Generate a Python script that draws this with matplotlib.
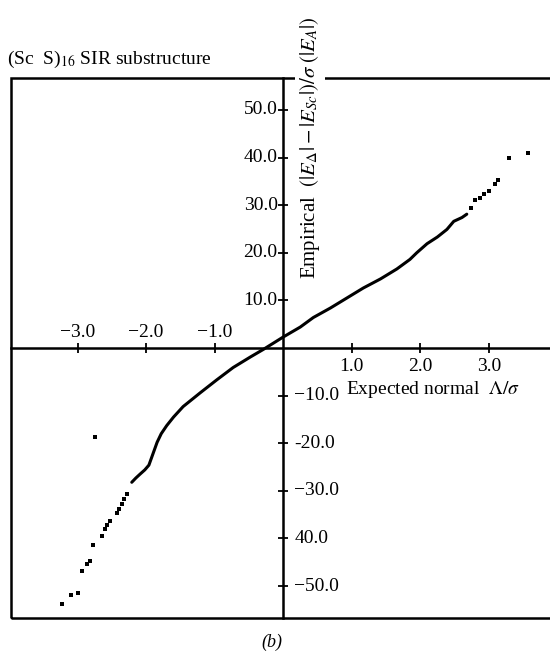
import matplotlib
matplotlib.use('Agg')
import matplotlib.pyplot as plt
from matplotlib.patches import Rectangle

plt.rcParams['font.family'] = ['Liberation Serif', 'DejaVu Serif']
plt.rcParams['mathtext.fontset'] = 'stix'

# normal probability plot, (Sc S)16 SIR substructure
# dense part of the curve
curve_x = [-2.21, -2.15, -2.09, -2.02, -1.96, -1.92, -1.88, -1.84, -1.78, -1.70,
           -1.60, -1.46, -1.21, -0.97, -0.73, -0.48, -0.29, 0.0, 0.25, 0.44,
           0.69, 0.93, 1.17, 1.42, 1.66, 1.85, 1.95, 2.10, 2.25, 2.39,
           2.49, 2.61, 2.68]
curve_y = [-28.2, -27.3, -26.5, -25.6, -24.6, -23.0, -21.4, -19.8, -18.0, -16.3,
           -14.5, -12.3, -9.4, -6.7, -4.1, -1.9, -0.3, 2.3, 4.4, 6.4,
           8.4, 10.5, 12.6, 14.5, 16.6, 18.6, 20.0, 21.9, 23.3, 24.9,
           26.6, 27.4, 28.1]

# sparse points in the tails
tail_x = [2.74, 2.80, 2.87, 2.93, 3.00, 3.09, 3.14, 3.29, 3.57,
          -2.28, -2.32, -2.35, -2.40, -2.43, -2.53, -2.57, -2.60, -2.65,
          -2.77, -2.82, -2.87, -2.93, -2.99, -3.09, -3.23, -2.74]
tail_y = [29.5, 31.1, 31.6, 32.3, 33.0, 34.5, 35.2, 39.9, 41.0,
          -30.7, -31.8, -32.8, -33.9, -34.6, -36.4, -37.2, -38.1, -39.5,
          -41.3, -44.8, -45.4, -46.9, -51.5, -51.9, -53.8, -18.7]

x_ticks = [-3, -2, -1, 1, 2, 3]
x_tick_labels = ['\u22123.0', '\u22122.0', '\u22121.0', '1.0', '2.0', '3.0']
y_ticks = [50, 40, 30, 20, 10, -10, -20, -30, -40, -50]
y_tick_labels = ['50.0', '40.0', '30.0', '20.0', '10.0',
                 '\u221210.0', '-20.0', '\u221230.0', '40.0', '\u221250.0']

fig = plt.figure(figsize=(5.5, 6.51), dpi=100)
ax = fig.add_axes([0.0191, 0.0507, 0.999, 0.8295])
ax.set_xlim(-3.98, 4.04)
ax.set_ylim(-56.7, 56.7)

# outer frame
ax.add_patch(Rectangle((0, 0), 1, 1, transform=ax.transAxes, fill=False,
                       lw=1.8, ec='black', clip_on=False, zorder=1))

# axes through the origin
for s in ['top', 'right']:
    ax.spines[s].set_visible(False)
ax.spines['left'].set_position(('data', 0))
ax.spines['bottom'].set_position(('data', 0))
ax.spines['left'].set_linewidth(1.8)
ax.spines['bottom'].set_linewidth(1.8)
ax.set_xticks(x_ticks, labels=[''] * len(x_ticks))
ax.set_yticks(y_ticks, labels=[''] * len(y_ticks))
ax.tick_params(direction='inout', length=7, width=1.3)

for x, lbl in zip(x_ticks, x_tick_labels):
    if x < 0:
        ax.annotate(lbl, (x, 0), xytext=(0, 5), textcoords='offset points',
                    ha='center', va='bottom', fontsize=14)
    else:
        ax.annotate(lbl, (x, 0), xytext=(0, -7), textcoords='offset points',
                    ha='center', va='top', fontsize=14)

for y, lbl in zip(y_ticks, y_tick_labels):
    if y > 0:
        ax.annotate(lbl, (0, y), xytext=(-4, 0), textcoords='offset points',
                    ha='right', va='center', fontsize=14)
    else:
        ax.annotate(lbl, (0, y), xytext=(8, 0), textcoords='offset points',
                    ha='left', va='center', fontsize=14)

ax.plot(curve_x, curve_y, color='black', lw=2.2, solid_capstyle='round', zorder=3)
ax.scatter(tail_x, tail_y, s=5, marker='s', color='black', lw=0, zorder=3)

fig.text(0.013, 0.909, r'(Sc  S)$_{16}$ SIR substructure', fontsize=14,
         ha='left', va='center')
fig.text(0.564, 0.773, r'Empirical  $(|E_\Delta| - |E_{Sc}|)/\sigma\ (|E_A|)$',
         rotation=90, fontsize=15, ha='center', va='center',
         bbox=dict(facecolor='white', edgecolor='none', pad=2), zorder=5)
fig.text(0.63, 0.401, r'Expected normal  $\Lambda/\sigma$', fontsize=14,
         ha='left', va='center')
fig.text(0.495, 0.014, '(b)', fontsize=13, ha='center', va='center', style='italic')

plt.savefig('out.png', dpi=100)
